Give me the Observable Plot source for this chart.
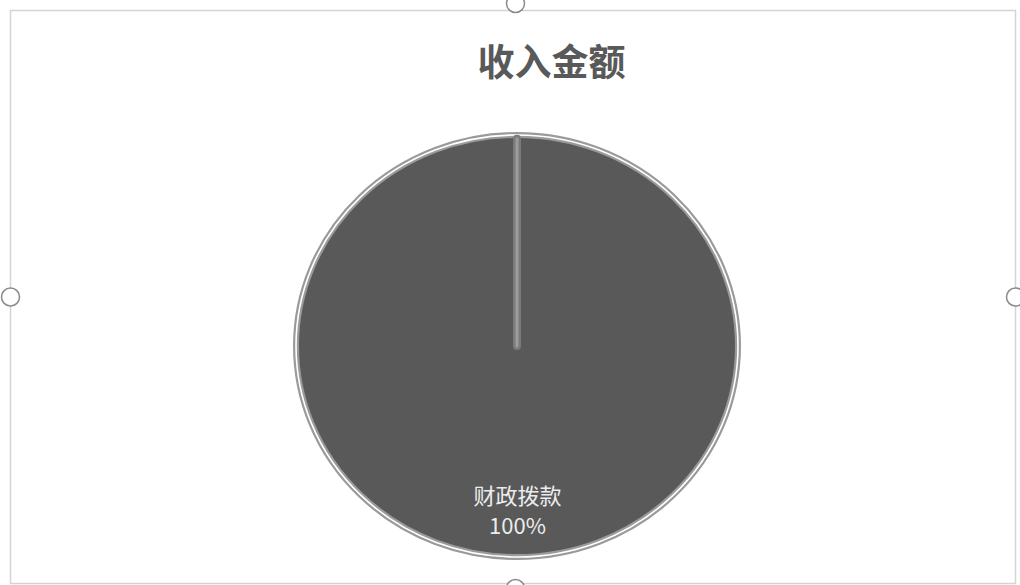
<!DOCTYPE html>
<html>
<head>
<meta charset="utf-8">
<script src="https://cdn.jsdelivr.net/npm/d3@7"></script>
<script src="https://cdn.jsdelivr.net/npm/@observablehq/plot@0.6"></script>
<style>
  html, body { margin: 0; padding: 0; background: #fff; }
  #chart svg { display: block; }
</style>
</head>
<body>
<div id="chart"></div>
<script>
// ---- data ----
const title = "收入金额";
const categories = ["财政拨款"];
const values = [100];
const percentLabels = ["100%"];

// ---- layout (unit = pie radius; the reference is slightly stretched horizontally) ----
const W = 1020, H = 585;
const Rx = 221, Ry = 211;    // pie radii in px
const cx = 517, cy = 346;    // pie centre in px
const xDomain = [-cx / Rx, (W - cx) / Rx];
const yDomain = [-(H - cy) / Ry, cy / Ry];

const pie = d3.pie().sort(null).startAngle(0).endAngle(2 * Math.PI);
const slices = pie(values).map((s, i) => ({...s, name: categories[i], pct: percentLabels[i]}));
const labelR = 0.785;
const labels = slices.map(s => {
  const mid = (s.startAngle + s.endAngle) / 2;
  return {x: Math.sin(mid) * labelR, y: Math.cos(mid) * labelR, name: s.name, pct: s.pct};
});

function pieMark(index, scales) {
  const {x, y} = scales;
  const px = x(0), py = y(0);
  const rx = x(1) - x(0), ry = y(0) - y(1);
  const arc = d3.arc().innerRadius(0).outerRadius(rx);
  const g = d3.create("svg:g").attr("transform", `translate(${px},${py}) scale(1,${ry / rx})`);
  slices.forEach(s => {
    g.append("path").attr("d", arc(s)).attr("fill", "#595959")
      .attr("stroke", "#9a9a9a").attr("stroke-width", 6).attr("vector-effect", "non-scaling-stroke");
    g.append("path").attr("d", arc(s)).attr("fill", "none")
      .attr("stroke", "#ffffff").attr("stroke-width", 1.6).attr("vector-effect", "non-scaling-stroke");
  });
  // slice edges (seams)
  slices.forEach(s => {
    const ex = Math.sin(s.startAngle) * (rx - 4), ey = -Math.cos(s.startAngle) * (rx - 4);
    g.append("line").attr("x1", 0).attr("y1", 0).attr("x2", ex).attr("y2", ey)
      .attr("stroke", "#7a7a7a").attr("stroke-width", 8).attr("stroke-linecap", "round")
      .attr("vector-effect", "non-scaling-stroke");
    g.append("line").attr("x1", 0).attr("y1", 0).attr("x2", ex).attr("y2", ey)
      .attr("stroke", "#9c9c9c").attr("stroke-width", 3).attr("stroke-linecap", "round")
      .attr("vector-effect", "non-scaling-stroke");
  });
  return g.node();
}

const handle = {r: 9, fill: "white", stroke: "#8a8a8a", strokeWidth: 1.5};

const chart = Plot.plot({
  width: W,
  height: H,
  margin: 0,
  x: {domain: xDomain, axis: null},
  y: {domain: yDomain, axis: null},
  style: {fontFamily: "'Noto Sans CJK SC', 'Noto Sans', sans-serif", background: "white"},
  marks: [
    Plot.frame({insetLeft: 10, insetTop: 10, insetRight: 5, insetBottom: 2, stroke: "#d4d4d4", strokeWidth: 1.5}),
    pieMark,
    Plot.text(labels, {x: "x", y: "y", text: "name", dy: -15, fill: "#ececec", fontSize: 22}),
    Plot.text(labels, {x: "x", y: "y", text: "pct", dy: 15, fill: "#ececec", fontSize: 22}),
    Plot.text([title], {frameAnchor: "top", dx: 41, dy: 64, lineAnchor: "middle", fontSize: 37, fontWeight: "bold", fill: "#595959"}),
    Plot.dot([0], {frameAnchor: "top", dx: 5, dy: 3, ...handle}),
    Plot.dot([0], {frameAnchor: "bottom", dx: 5, dy: 3, ...handle}),
    Plot.dot([0], {frameAnchor: "left", dx: 10, dy: 4, ...handle}),
    Plot.dot([0], {frameAnchor: "right", dx: -5, dy: 4, ...handle})
  ]
});
document.getElementById("chart").appendChild(chart);
</script>
</body>
</html>
